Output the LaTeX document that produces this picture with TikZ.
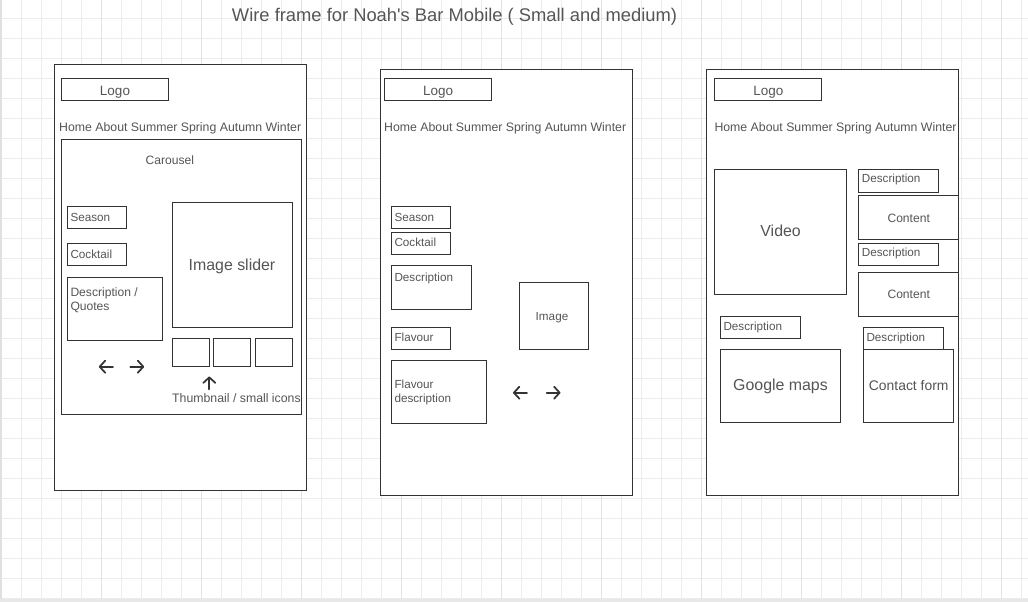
\documentclass[tikz,border=0pt]{standalone}
\usepackage{fontspec}
\setmainfont{Liberation Sans}
\usetikzlibrary{arrows.meta}

\definecolor{ink}{HTML}{333333}
\definecolor{txt}{HTML}{555555}
\definecolor{gridminor}{HTML}{ECECEC}
\definecolor{gridmajor}{HTML}{E2E2E2}

\tikzset{
  box/.style={draw=ink, line width=1pt, fill=white, inner sep=0pt, outer sep=0pt},
  lbl/.style={text=txt, inner sep=0pt, font=\fontsize{12.1}{14}\selectfont},
  small/.style={text=txt, inner sep=0pt, font=\fontsize{11.7}{14}\selectfont},
  big/.style={text=txt, inner sep=0pt, font=\fontsize{15.9}{19}\selectfont},
  logotext/.style={text=txt, inner sep=0pt, font=\fontsize{13.5}{16}\selectfont},
  navtext/.style={text=txt, inner sep=0pt, anchor=base west, font=\fontsize{12.3}{14}\selectfont},
  iconarrow/.style={draw=ink, line width=1.75pt, line cap=round,
    -{Straight Barb[length=5.5pt, width=12pt, line join=round, line cap=round]}},
  gridline/.style={draw=gridminor, line width=0.8pt},
  gridbold/.style={draw=gridmajor, line width=0.8pt},
}

% box from its corners: name, x1, y1, x2, y2
\newcommand\wbox[5]{%
  \node[box, minimum width={(#4)-(#2)}, minimum height={(#5)-(#3)}]
    (#1) at ({((#2)+(#4))/2},{((#3)+(#5))/2}) {};}

\begin{document}
\begin{tikzpicture}[x=1pt, y=-1pt]
\useasboundingbox (0,0) rectangle (1028,602);
\fill[white] (0,0) rectangle (1028,602);

% background grid
\foreach \gx in {1,21,...,1021} \draw[gridline] (\gx,0) -- (\gx,599);
\foreach \gy in {18,38,...,598} \draw[gridline] (0,\gy) -- (1028,\gy);
\foreach \gx in {1,101,...,1001} \draw[gridbold] (\gx,0) -- (\gx,599);
\fill[gray!18] (0,599) rectangle (1028,602);
\draw[gray!25, line width=1pt] (0.5,0) -- (0.5,599);

% title
\node[text=txt, inner sep=0pt, anchor=base, font=\fontsize{18.35}{20}\selectfont] (title) at (454.5,21.7)
  {Wire frame for Noah\textquotesingle s Bar Mobile ( Small and medium)};

% ---------- screen 1: carousel ----------
\wbox{screenA}{54}{64.5}{306}{490}
\wbox{logoA}{61}{79}{168.5}{100}
\node[logotext, anchor=base] (logoAt) at (115,95.3) {Logo};
\node[navtext] (navA) at (59,131.7) {Home About Summer Spring Autumn Winter};
\wbox{carousel}{61}{139.5}{301.5}{414}
\node[lbl, anchor=base] (carouselt) at (169.8,164.7) {Carousel};
\wbox{seasonA}{67}{206}{126.5}{228}
\node[small, anchor=base west] (seasonAt) at (70.3,221) {Season};
\wbox{cocktailA}{67}{243}{126.5}{265}
\node[small, anchor=base west] (cocktailAt) at (70.3,258) {Cocktail};
\wbox{quotes}{67}{277.5}{162.5}{340}
\node[lbl, anchor=north west, align=left] (quotest) at (70.3,287.2)
  {Description /\\Quotes};
\wbox{slider}{172}{202.5}{292.5}{327.5}
\node[big, anchor=base] (slidert) at (232,270) {Image slider};
\wbox{thumbA}{172}{338.5}{209.5}{366}
\wbox{thumbB}{213.5}{338.5}{250.5}{366}
\wbox{thumbC}{255}{338.5}{292.5}{366}
% navigation arrows
\coordinate (prevAtail) at (113,366.7);
\coordinate (prevAtip) at (98.8,366.7);
\coordinate (nextAtail) at (130.3,366.7);
\coordinate (nextAtip) at (144.2,366.7);
\coordinate (upAtail) at (209.3,389.3);
\coordinate (upAtip) at (209.3,376.5);
\draw[iconarrow] (prevAtail) -- (prevAtip);
\draw[iconarrow] (nextAtail) -- (nextAtip);
\draw[iconarrow] (upAtail) -- (upAtip);
\node[lbl, anchor=base west, font=\fontsize{12.3}{14}\selectfont] (thumbt) at (172,402.7) {Thumbnail / small icons};

% ---------- screen 2: cocktail page ----------
\wbox{screenB}{380.5}{69.5}{632.5}{495.5}
\wbox{logoB}{384.5}{79}{491.5}{100}
\node[logotext, anchor=base] (logoBt) at (438.2,95.3) {Logo};
\node[navtext] (navB) at (384,131.7) {Home About Summer Spring Autumn Winter};
\wbox{seasonB}{391.5}{206}{450.5}{228}
\node[small, anchor=base west] (seasonBt) at (394.3,221) {Season};
\wbox{cocktailB}{391.5}{232.5}{450.5}{254}
\node[small, anchor=base west] (cocktailBt) at (394.3,246.7) {Cocktail};
\wbox{descB}{391.5}{265.5}{471.5}{309}
\node[small, anchor=base west] (descBt) at (394.3,281.3) {Description};
\wbox{flavour}{391.5}{327.5}{450.5}{349}
\node[small, anchor=base west] (flavourt) at (394.3,341.7) {Flavour};
\wbox{flavourdesc}{391.5}{360.5}{486.5}{423}
\node[small, anchor=north west, align=left] (flavourdesct) at (394.3,379.6)
  {Flavour\\description};
\wbox{imageB}{519}{282.5}{588.5}{349}
\node[small, anchor=base] (imageBt) at (552,320) {Image};
\coordinate (prevBtail) at (527,392.7);
\coordinate (prevBtip) at (513,392.7);
\coordinate (nextBtail) at (546.7,392.7);
\coordinate (nextBtip) at (560.5,392.7);
\draw[iconarrow] (prevBtail) -- (prevBtip);
\draw[iconarrow] (nextBtail) -- (nextBtip);

% ---------- screen 3: about / contact ----------
\wbox{screenC}{706.5}{69.5}{958.5}{495.5}
\wbox{logoC}{714.5}{79}{821.5}{100}
\node[logotext, anchor=base] (logoCt) at (768.3,95.3) {Logo};
\node[navtext] (navC) at (714.3,131.7) {Home About Summer Spring Autumn Winter};
\wbox{video}{714.5}{169}{846.5}{294.5}
\node[big, anchor=base] (videot) at (780.6,236.7) {Video};
\wbox{descC1}{858.5}{169}{938.5}{192}
\node[small, anchor=base west] (descC1t) at (861.7,182.7) {Description};
\wbox{contentC1}{858.5}{195.5}{958.5}{239}
\node[lbl, anchor=base] (contentC1t) at (908.7,222.7) {Content};
\wbox{descC2}{858.5}{243.5}{938.5}{265}
\node[small, anchor=base west] (descC2t) at (861.7,256.7) {Description};
\wbox{contentC2}{858.5}{272.5}{958.5}{316.5}
\node[lbl, anchor=base] (contentC2t) at (908.7,298) {Content};
\wbox{descC3}{720.5}{316.5}{800.5}{338}
\node[small, anchor=base west] (descC3t) at (723.3,330) {Description};
\wbox{maps}{720.5}{349.5}{840.5}{422}
\node[big, anchor=base] (mapst) at (780.5,390.7) {Google maps};
\wbox{descC4}{863.5}{327.5}{943.5}{349.5}
\node[small, anchor=base west] (descC4t) at (866.3,341) {Description};
\wbox{contact}{863.5}{349.5}{953.5}{422}
\node[text=txt, inner sep=0pt, anchor=base, font=\fontsize{13.9}{16}\selectfont] (contactt) at (908.7,390.7) {Contact form};
\end{tikzpicture}
\end{document}
